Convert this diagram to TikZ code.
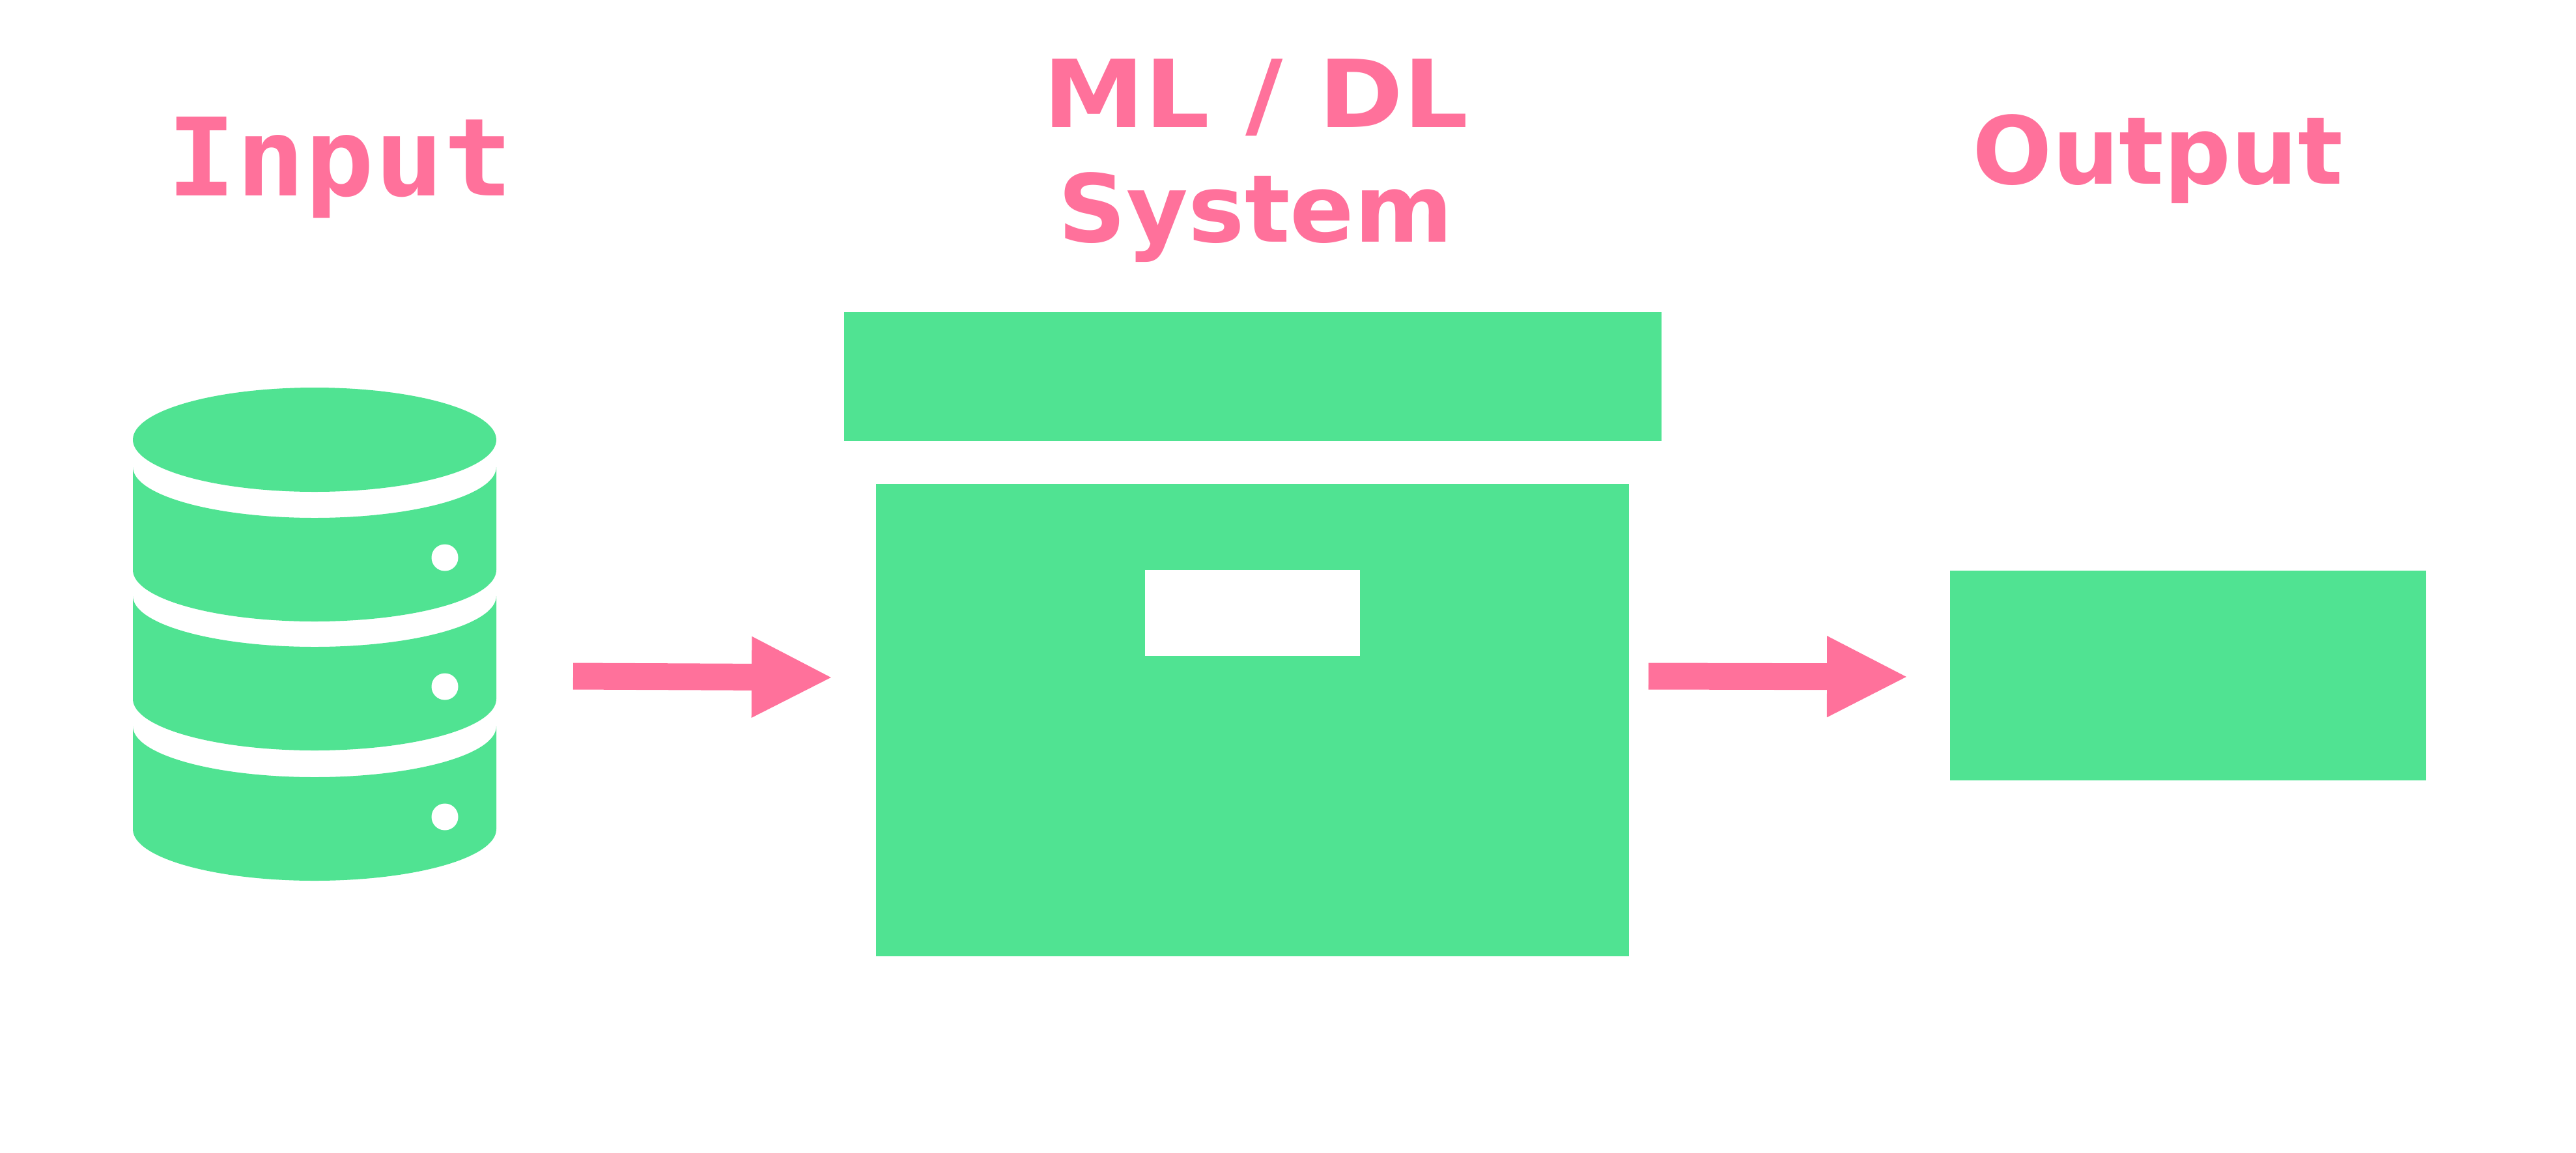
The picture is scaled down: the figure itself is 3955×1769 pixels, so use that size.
\documentclass[tikz,border=0pt]{standalone}
\usepackage{fontspec}
\setmainfont{DejaVu Sans}
\newfontfamily\inputfont{DejaVu Sans Mono}
\usetikzlibrary{arrows.meta}
\definecolor{mint}{HTML}{50E392}
\definecolor{rose}{HTML}{FF719B}
\tikzset{
  x=0.02cm, y=0.02cm,
  panel/.style={fill=mint, draw=none, inner sep=0pt, outer sep=0pt},
  hatch/.style={fill=white, draw=none, inner sep=0pt, outer sep=0pt},
  title/.style={text=rose, inner sep=0pt, outer sep=0pt, anchor=base, font=\bfseries\fontsize{82pt}{82pt}\selectfont, transform shape},
  flow/.style={draw=rose, line width=0.82cm, -{Triangle[length=2.5cm,width=2.3cm]}},
}
\begin{document}
\begin{tikzpicture}
\useasboundingbox (0,0) rectangle (3955,-1769);
% titles
\node[title, xscale=1.09] (mldl) at (1928,-195) {ML / DL};
\node[title, xscale=1.01] (system) at (1928,-371) {System};
\node[title] (output) at (3313,-282) {Output};
\node[title, xscale=0.957, yscale=0.9, font=\inputfont\bfseries\fontsize{105pt}{105pt}\selectfont] (input) at (522,-300) {Input};
% database icon
\fill[mint] (483,-675) ellipse [x radius=279, y radius=80];
\foreach \t in {717,915,1115} {
  \fill[mint] (204,-\t-158) -- (204,-\t)
     arc [start angle=180, end angle=360, x radius=279, y radius=78]
     -- (762,-\t-158)
     arc [start angle=0, end angle=-180, x radius=279, y radius=79] -- cycle;
  \fill[white] (683,-\t-139) circle [radius=20.5];
}
% box
\node[panel, minimum width=25.1cm, minimum height=3.96cm, anchor=north west] (lid) at (1296,-479) {};
\node[panel, minimum width=23.12cm, minimum height=14.5cm, anchor=north west] (body) at (1345,-743) {};
\node[hatch, minimum width=6.6cm, minimum height=2.64cm, anchor=north west] (slot) at (1758,-875) {};
% output
\node[panel, minimum width=14.62cm, minimum height=6.44cm, anchor=north west] (result) at (2994,-876) {};
% arrows
\coordinate (a1s) at (880,-1038);
\coordinate (a1e) at (1279,-1040);
\coordinate (a2s) at (2531,-1038);
\coordinate (a2e) at (2930,-1039);
\draw[flow] (a1s) -- (a1e);
\draw[flow] (a2s) -- (a2e);
\end{tikzpicture}
\end{document}
